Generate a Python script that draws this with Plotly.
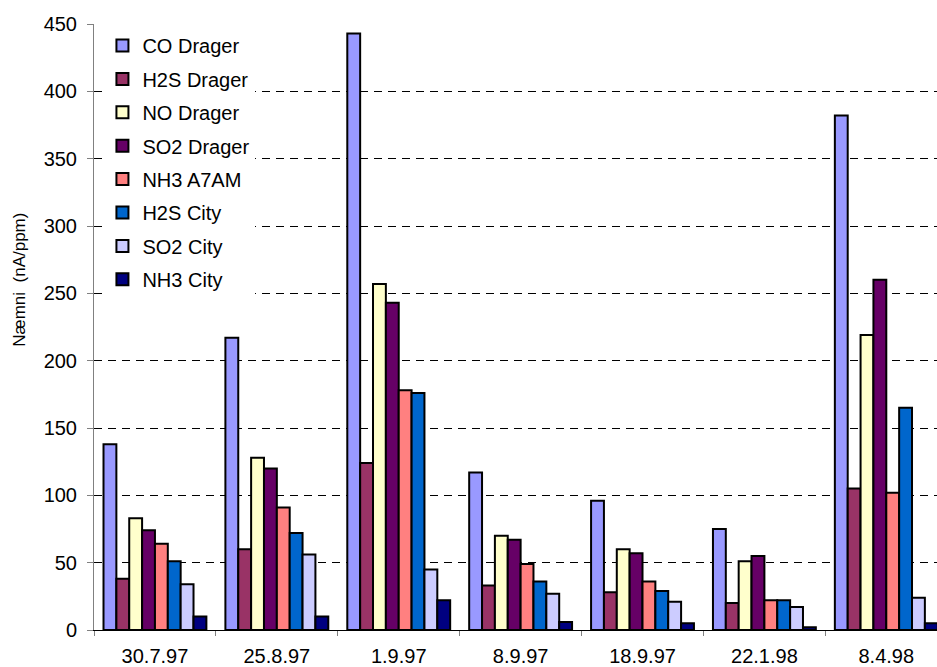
import plotly.graph_objects as go

# Measurement dates (x categories)
dates = ["30.7.97", "25.8.97", "1.9.97", "8.9.97", "18.9.97", "22.1.98", "8.4.98"]

# Sensor sensitivity, nA/ppm
co_drager = [138, 217, 443, 117, 96, 75, 382]
h2s_drager = [38, 60, 124, 33, 28, 20, 105]
no_drager = [83, 128, 257, 70, 60, 51, 219]
so2_drager = [74, 120, 243, 67, 57, 55, 260]
nh3_a7am = [64, 91, 178, 49, 36, 22, 102]
h2s_city = [51, 72, 176, 36, 29, 22, 165]
so2_city = [34, 56, 45, 27, 21, 17, 24]
nh3_city = [10, 10, 22, 6, 5, 2, 5]

series = [
    ("CO Drager", co_drager, "#9999FF"),
    ("H2S Drager", h2s_drager, "#993366"),
    ("NO Drager", no_drager, "#FFFFCC"),
    ("SO2 Drager", so2_drager, "#660066"),
    ("NH3 A7AM", nh3_a7am, "#FF8080"),
    ("H2S City", h2s_city, "#0066CC"),
    ("SO2 City", so2_city, "#CCCCFF"),
    ("NH3 City", nh3_city, "#000080"),
]

FONT = "Liberation Sans, Arial, sans-serif"

fig = go.Figure()
for name, vals, color in series:
    fig.add_trace(go.Bar(
        x=dates, y=vals, name=name, legendgroup=name,
        marker=dict(color=color, line=dict(color="black", width=2)),
    ))

fig.update_layout(
    width=937, height=667,
    margin=dict(l=94, r=0, t=24, b=37),
    paper_bgcolor="white", plot_bgcolor="white",
    barmode="group", bargap=0.156, bargroupgap=0,
    font=dict(family=FONT, size=20, color="black"),
    showlegend=True,
    legend=dict(
        x=0.01, y=0.9967, xanchor="left", yanchor="top",
        bgcolor="white", borderwidth=0,
        font=dict(family=FONT, size=20, color="black"),
        tracegroupgap=4.4, itemwidth=30,
    ),
    # vertical axis caption, placed a little above the axis middle
    annotations=[dict(
        text="Næmni  (nA/ppm)", textangle=-90,
        xref="paper", yref="paper", x=-0.0878, y=0.578,
        xanchor="center", yanchor="middle", showarrow=False,
        font=dict(family=FONT, size=17, color="black"),
    )],
)

fig.update_yaxes(
    range=[0, 450], tickvals=list(range(0, 451, 50)),
    showgrid=True, gridcolor="black", gridwidth=1, griddash="8px,6px",
    showline=True, linecolor="#808080", linewidth=1,
    ticks="outside", ticklen=6, tickcolor="#808080",
    ticklabelstandoff=6,
    tickfont=dict(family=FONT, size=20),
    zeroline=False,
)

fig.update_xaxes(
    type="category", range=[-0.5, 6.416],
    showline=True, linecolor="black", linewidth=1,
    ticks="outside", ticklen=5, tickcolor="#808080", tickson="boundaries",
    ticklabelstandoff=8,
    tickfont=dict(family=FONT, size=20),
    showgrid=False,
)

fig.write_html("out.html")
